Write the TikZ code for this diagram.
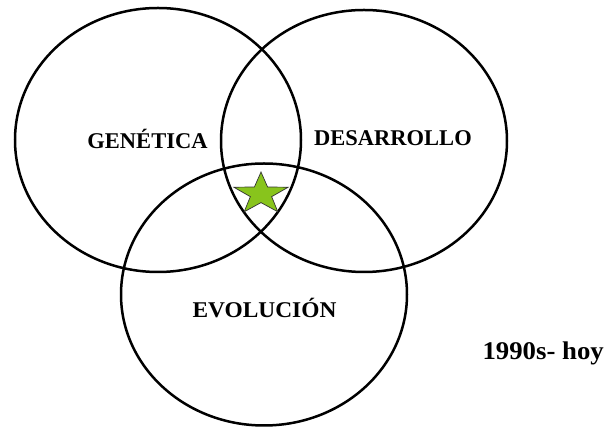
\documentclass[tikz,border=0pt]{standalone}
\usepackage{fontspec}
\setmainfont{Liberation Serif}
\usetikzlibrary{shapes.geometric}

\definecolor{stargreen}{RGB}{136,196,28}

\begin{document}
\begin{tikzpicture}[x=1pt,y=1pt,
		label/.style={font=\fontsize{22.5}{26}\selectfont\bfseries,inner sep=0pt}]
		\useasboundingbox (0,0) rectangle (606,428);
		% the three fields
		\draw[line width=2.5pt] (158,288) ellipse (143 and 132);
		\draw[line width=2.5pt] (364,287) ellipse (143 and 131);
		\draw[line width=2.5pt] (264,133.5) ellipse (143 and 131);
		% star in the common part
		\node[star,star points=5,star point ratio=2.55,draw=black!80,line width=0.7pt,
			fill=stargreen,minimum size=44pt,inner sep=0pt,xscale=1.3] (estrella) at (261,234) {};
		% labels
		\node[label] (genetica) at (147.5,289) {GENÉTICA};
		\node[label] (desarrollo) at (393,290) {DESARROLLO};
		\node[label,xscale=1.04] (evolucion) at (264.5,120) {EVOLUCIÓN};
		\node[label,anchor=east,font=\fontsize{25.5}{29}\selectfont\bfseries,xscale=1.05] (periodo) at (604,75) {1990s- hoy};
	\end{tikzpicture}
\end{document}
